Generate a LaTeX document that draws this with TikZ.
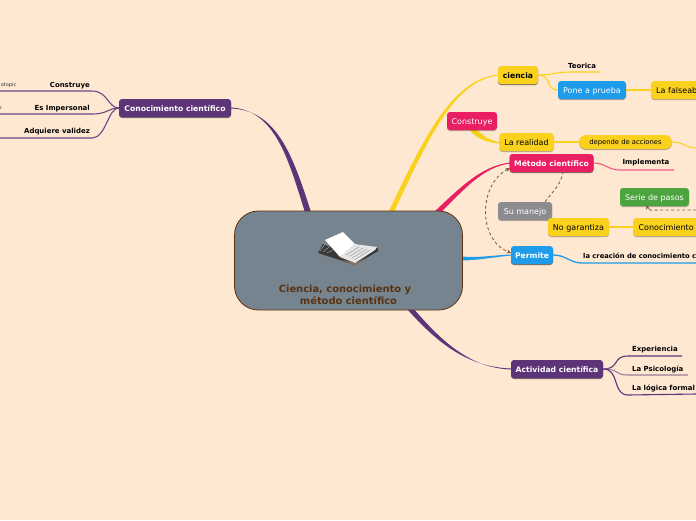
\documentclass[tikz,border=0pt]{standalone}
\usepackage{fontspec}
\setmainfont{DejaVu Sans}
\usetikzlibrary{arrows.meta,calc,shadows}
\definecolor{bgc}{HTML}{FFE8D2}
\definecolor{purp}{HTML}{5D3478}
\definecolor{yell}{HTML}{FAD21E}
\definecolor{pink}{HTML}{E91E63}
\definecolor{blu}{HTML}{1E9BE9}
\definecolor{grn}{HTML}{4CA43E}
\definecolor{gry}{HTML}{8C8C90}
\definecolor{slate}{HTML}{76848F}
\definecolor{brn}{HTML}{5A3210}
\tikzset{
 box/.style={rounded corners=3pt,inner sep=0pt,minimum height=18pt,text height=6pt,text depth=0pt,font=\fontsize{8}{10}\selectfont,align=center,drop shadow={shadow xshift=0pt,shadow yshift=-1pt,opacity=.3,fill=black}},
 bboxx/.style={box,font=\fontsize{7.65}{10}\selectfont\bfseries},
 lab/.style={inner sep=0pt,font=\fontsize{6.95}{8}\selectfont\bfseries,text=black},
 wire/.style={line width=1.1pt},
 rel/.style={draw=brn!75!bgc,line width=.9pt,dash pattern=on 3pt off 2.5pt},
 relhead/.style={rel,-{Stealth[length=4.5pt,width=4pt]}},
 relboth/.style={rel,{Stealth[length=4.5pt,width=4pt]}-{Stealth[length=4.5pt,width=4pt]}},
}
\begin{document}
\begin{tikzpicture}[x=1pt,y=-1pt]
\useasboundingbox (0,0) rectangle (696,520);
\fill[bgc] (0,0) rectangle (696,520);
\clip (0,0) rectangle (696,520);
% anchors
\coordinate (eA) at (0,91); \coordinate (eB) at (0,114); \coordinate (eC) at (0,138);
\coordinate (tF) at (600,72); \coordinate (tI) at (674,170);
\coordinate (tC) at (696,263); \coordinate (tX) at (682,356);
\coordinate (tP) at (688,375); \coordinate (tL) at (696,394);
\coordinate (tD) at (696,148);
% main branches
\fill[purp] (231,107.5) .. controls (275,110) and (288,158) .. (305.5,214) -- (311,212) .. controls (293,156) and (277,110) .. (231,108.5) -- cycle;
\fill[yell] (498,74.5) .. controls (452,80) and (425,135) .. (388,213) -- (393,214) .. controls (429,137) and (454,81) .. (498,75.5) -- cycle;
\fill[pink] (510,162.5) .. controls (480,166) and (458,190) .. (434,212) -- (438,215) .. controls (462,192) and (482,167) .. (510,163.5) -- cycle;
\fill[blu] (511,254.5) .. controls (495,255) and (480,258) .. (462,256.5) -- (462,260.5) .. controls (480,260) and (495,257) .. (511,255.5) -- cycle;
\fill[purp] (511,368.5) .. controls (470,367) and (440,346) .. (408,310) -- (413,308) .. controls (443,343) and (471,368) .. (511,369.5) -- cycle;
\fill[yell] (475,128) .. controls (482,135) and (490,141) .. (500,142) -- (500,143.5) .. controls (488,143) and (476,139) .. (469,129) -- cycle;
% central
\node[draw=brn,fill=slate,rounded corners=24pt,line width=.8pt,minimum width=228pt,minimum height=99pt,inner sep=0pt] (center) at (348.5,260.5) {};
\node[inner sep=0pt,font=\fontsize{9.9}{12}\selectfont\bfseries,text=brn,align=center] (ctitle) at (345,294.5) {Ciencia, conocimiento y\\ \hspace{7pt}método científico};
% book icon
\fill[black!78] (318,253) -- (323,244) -- (342,252) -- (356,244) -- (378,248) -- (378,251) -- (355,265) -- cycle;
\fill[brn!70] (340,259) -- (355,265.5) -- (366,258) -- (355,263) -- cycle;
\fill[black!10] (340,257) -- (355,244) -- (377,247) -- (375,250) -- (355,263) -- cycle;
\draw[black!45,line width=.35pt] (346,255) -- (359,247) (349,256.5) -- (363,248) (352,258) -- (367,249) (355,259.5) -- (370,250);
\fill[white] (325,240) -- (343,232) -- (355,244) -- (340,257) -- cycle;
\draw[black!25,line width=.35pt] (320,251) -- (325,244) (323,252) -- (329,247) (327,253) -- (333,250);
% left branch
\node[box,bboxx,fill=purp,text=white,minimum width=112pt] (cc) at (175,108) {Conocimiento científico};
\draw[purp!90,wire] (cc.west) .. controls (108,108) and (108,91) .. (92,91) -- (eA);
\draw[purp!90,wire] (cc.west) .. controls (108,108) and (108,114) .. (92,114) -- (eB);
\draw[purp!90,wire] (cc.west) .. controls (108,108) and (106,138) .. (92,138) -- (eC);
\node[lab,anchor=east] (l1) at (90,85.5) {Construye};
\node[lab,anchor=east] (l2) at (90,109) {Es Impersonal};
\node[lab,anchor=east] (l3) at (90,132) {Adquiere validez};
\node[inner sep=0pt,anchor=east,font=\fontsize{5}{6}\selectfont,text=black!80] (s1) at (16.5,85.5) {otopic};
\node[inner sep=0pt,anchor=east,font=\fontsize{5}{6}\selectfont,text=black!80] (s2) at (2,108.5) {o};
% ciencia
\node[box,bboxx,fill=yell,minimum width=40pt,text=black] (ci) at (518,75) {ciencia};
\node[box,fill=blu,text=white,minimum width=68pt] (pp) at (592,90) {Pone a prueba};
\node[box,fill=yell,anchor=west,text=black,text width=60pt,align=left,inner xsep=5pt] (fa) at (651,90) {La falseab};
\node[lab] (te) at (582,65.5) {Teorica};
\draw[yell,wire] (ci.east) .. controls (552,75) and (556,72) .. (570,72) -- (tF);
\draw[yell,wire] (ci.east) .. controls (552,75) and (545,90) .. (pp.west);
\draw[yell,line width=1.4pt] (pp.east) -- (fa.west);
% construye
\node[box,fill=pink,text=white,minimum width=50pt] (co) at (472,121) {Construye};
\node[box,fill=yell,text=black,minimum width=54pt] (re) at (526.5,142) {La realidad};
\node[box,fill=yell,text=black,rounded corners=7pt,minimum width=93pt,minimum height=14pt,text height=5pt,font=\fontsize{6.8}{8}\selectfont] (de) at (625.5,142) {depende de acciones};
\draw[yell,wire] (re.east) -- (de.west);
\draw[yell,wire] (de.east) .. controls (684,142) and (686,148) .. (tD);
% metodo
\node[box,bboxx,fill=pink,text=white,minimum width=84pt] (me) at (551.5,163) {Método científico};
\node[lab] (im) at (646,162.5) {Implementa};
\draw[pink!70!bgc,line width=1.1pt] (me.east) .. controls (605,163) and (608,170) .. (620,170) -- (tI);
\node[box,fill=grn,text=white,minimum width=69pt] (se) at (654.5,197) {Serie de pasos};
\node[box,fill=gry,text=white,minimum width=54pt] (su) at (525,211) {Su manejo};
\node[box,fill=yell,text=black,minimum width=61pt] (no) at (578.5,227) {No garantiza};
\node[box,fill=yell,text=black,minimum width=66pt,anchor=west] (cn) at (633,227) {Conocimiento};
\draw[yell,line width=1.2pt] (no.east) -- (cn.west);
\node[box,bboxx,fill=blu,text=white,minimum width=42pt] (pe) at (532,255) {Permite};
\node[lab,anchor=west,font=\fontsize{6.75}{8}\selectfont\bfseries] (cr) at (583,255.5) {la creación de conocimiento c};
\draw[blu,line width=1.3pt] (pe.east) .. controls (566,255) and (570,263) .. (582,263) -- (tC);
\draw[rel] (su.north east) ++(-7,0) .. controls (552,192) and (561,185) .. (563,172);
\draw[relboth] (510,168) .. controls (478,185) and (478,240) .. (511,253);
\draw[relhead] (696,210) -- (662,210) .. controls (652,210) and (648,211) .. (647,205);
% actividad
\node[box,bboxx,fill=purp,text=white,minimum width=92pt] (ac) at (557,369) {Actividad científica};
\draw[purp,wire] (ac.east) .. controls (620,369) and (612,356) .. (628,356) -- (tX);
\draw[purp!60!bgc,line width=1.1pt] (ac.east) .. controls (620,369) and (614,375) .. (628,375) -- (tP);
\draw[purp,wire] (ac.east) .. controls (620,369) and (612,395) .. (628,395) -- (tL);
\node[lab,anchor=west] (x1) at (632,350) {Experiencia};
\node[lab,anchor=west] (x2) at (632,369) {La Psicología};
\node[lab,anchor=west] (x3) at (632,388.5) {La lógica formal};
\end{tikzpicture}
\end{document}
